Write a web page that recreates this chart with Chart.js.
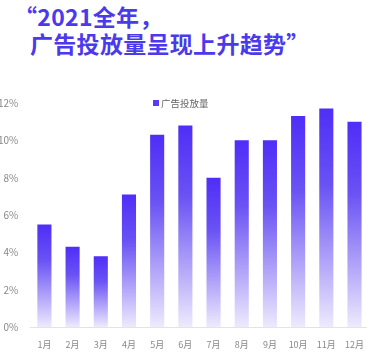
<!DOCTYPE html>
<html>
<head>
<meta charset="utf-8">
<script src="https://cdn.jsdelivr.net/npm/chart.js@4/dist/chart.umd.min.js"></script>
<style>
  html, body { margin: 0; padding: 0; background: #fff; }
  body { width: 367px; height: 352px; position: relative; overflow: hidden; font-family: 'Noto Sans CJK SC', 'Noto Sans', sans-serif; }
  .title { position: absolute; font-size: 23px; font-weight: bold; line-height: 28px; color: #4a3aec; white-space: nowrap; letter-spacing: 0.3px; }
  #t1 { left: 14px; top: 2px; }
  #t2 { left: 30px; top: 29px; }
  #legend { position: absolute; left: 153px; top: 96px; font-size: 9.5px; color: #666; white-space: nowrap; line-height: 14px; }
  #legend i { display: inline-block; width: 6px; height: 6px; background: #5a3cf5; margin-right: 2px; vertical-align: 1px; }
  #wrap { position: absolute; left: -20px; top: 80px; width: 396px; height: 286px; }
</style>
</head>
<body>
<div class="title" id="t1">“2021全年，</div>
<div class="title" id="t2">广告投放量呈现上升趋势”</div>
<div id="wrap"><canvas id="adChart"></canvas></div>
<div id="legend"><i></i>广告投放量</div>
<script>
// months and share of ad volume (%)
const months = ['1月', '2月', '3月', '4月', '5月', '6月', '7月', '8月', '9月', '10月', '11月', '12月'];
const adVolume = [5.5, 4.3, 3.8, 7.1, 10.3, 10.8, 8.0, 10.0, 10.0, 11.3, 11.7, 11.0];
const yTicks = [0, 2, 4, 6, 8, 10, 12];

Chart.defaults.font.family = "'Noto Sans CJK SC', 'Noto Sans', sans-serif";
Chart.defaults.color = '#888';

// each bar fades from deep violet at its top to pale lavender at the base
function barGradient(context) {
    const chart = context.chart;
    if (!chart.chartArea) return '#5a3cf5';
    const yScale = chart.scales.y;
    const top = yScale.getPixelForValue(context.raw);
    const bottom = yScale.getPixelForValue(0);
    const g = chart.ctx.createLinearGradient(0, top, 0, bottom);
    g.addColorStop(0, '#4f2ef7');
    g.addColorStop(0.35, '#6a52f4');
    g.addColorStop(1, '#eeeafd');
    return g;
}

const ctx = document.getElementById('adChart').getContext('2d');
new Chart(ctx, {
    type: 'bar',
    data: {
        labels: months,
        datasets: [{
            label: '广告投放量',
            data: adVolume,
            backgroundColor: barGradient,
            borderWidth: 0,
            barPercentage: 0.5,
            categoryPercentage: 1
        }]
    },
    options: {
        responsive: true,
        maintainAspectRatio: false,
        animation: false,
        layout: { padding: { top: 23, left: 6, right: 0, bottom: 4 } },
        scales: {
            x: {
                grid: { display: false, drawTicks: false },
                border: { display: true, color: '#e3e3e3', width: 1 },
                ticks: { font: { size: 9 }, padding: 12, color: '#888' }
            },
            y: {
                min: 0,
                max: 12,
                afterBuildTicks: axis => { axis.ticks = yTicks.map(v => ({ value: v })); },
                grid: { display: false, drawTicks: false },
                border: { display: false },
                ticks: { font: { size: 10 }, padding: 12, color: '#888', callback: v => v + '%' }
            }
        },
        plugins: {
            legend: { display: false },
            tooltip: { enabled: false }
        }
    }
});
</script>
</body>
</html>
